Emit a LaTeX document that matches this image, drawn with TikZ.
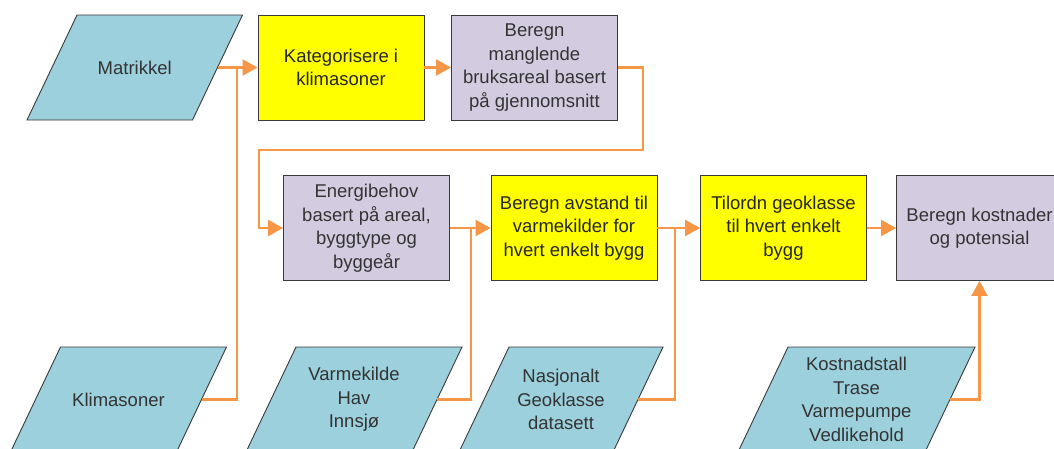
\documentclass[tikz,border=0pt]{standalone}
\usepackage{fontspec}
\setmainfont{Liberation Sans}
\usetikzlibrary{arrows.meta,calc}
\definecolor{inblue}{HTML}{9BD0DC}
\definecolor{procpurple}{HTML}{D3CCE0}
\definecolor{procyellow}{HTML}{FFFF00}
\definecolor{flow}{HTML}{F79646}
\definecolor{txt}{HTML}{333333}
\definecolor{edgegray}{HTML}{3A3A3A}
\tikzset{
  boxfont/.style={font=\fontsize{18.5}{23.5}\selectfont},
  proc/.style={draw=edgegray, line width=0.9pt, minimum width=166pt, minimum height=105pt,
    align=center, text=txt, boxfont, inner sep=2pt},
  purplebox/.style={proc, fill=procpurple},
  yellowbox/.style={proc, fill=procyellow, text=black!85},
  inshape/.style={fill=inblue, draw=edgegray, line width=0.9pt},
  intext/.style={minimum height=105pt, align=center, text=txt, boxfont, inner sep=0pt},
  flowline/.style={draw=flow, line width=2.2pt},
  flowarrow/.style={flowline, -{Triangle[length=15pt,width=16pt]}},
}
\newcommand\inbox[5]{%
  \filldraw[inshape] ({#2-#4/2+25},{#3-52.5}) -- ({#2+#4/2+25},{#3-52.5})
    -- ({#2+#4/2-25},{#3+52.5}) -- ({#2-#4/2-25},{#3+52.5}) -- cycle;
  \node[intext, minimum width=#4pt] (#1) at (#2,#3) {#5};}
\begin{document}
\begin{tikzpicture}[x=1pt,y=-1pt]
\clip (0,0) rectangle (1054,448);
\fill[white] (0,0) rectangle (1054,448);

% input parallelograms
\inbox{matr}{134.75}{67.5}{165.5}{Matrikkel}
\inbox{klim}{118.5}{399.5}{166}{Klimasoner}
\inbox{varme}{354}{399.5}{166}{Varmekilde\\Hav\\Innsjø}
\inbox{nasj}{561}{399.5}{154}{Nasjonalt\\Geoklasse\\datasett}
\inbox{kostt}{856.5}{399.5}{187}{Kostnadstall\\Trase\\Varmepumpe\\Vedlikehold}

% process boxes
\node[yellowbox] (kat) at (341,67.5) {Kategorisere i\\klimasoner};
\node[purplebox] (mang) at (534.5,67.5) {Beregn\\manglende\\bruksareal basert\\på gjennomsnitt};
\node[purplebox] (energi) at (366.5,228) {Energibehov\\basert på areal,\\byggtype og\\byggeår};
\node[yellowbox] (avst) at (574,228) {Beregn avstand til\\varmekilder for\\hvert enkelt bygg};
\node[yellowbox] (geo) at (783.5,228) {Tilordn geoklasse\\til hvert enkelt\\bygg};
\node[purplebox] (kost) at (979.5,228) {Beregn kostnader\\og potensial};

% junction points and bends
\coordinate (j1) at (237,67.5);
\coordinate (t1) at (643,150);
\coordinate (t2) at (259,150);
\coordinate (j2) at (471,228);
\coordinate (j3) at (675,228);

% connectors
\draw[flowarrow] (matr.east) -- (kat.west);
\draw[flowline] (klim.east) -| (j1);
\draw[flowarrow] (kat.east) -- (mang.west);
\draw[flowarrow] (mang.east) -| (t1) -- (t2) |- (energi.west);
\draw[flowarrow] (energi.east) -- (avst.west);
\draw[flowline] (varme.east) -| (j2);
\draw[flowarrow] (avst.east) -- (geo.west);
\draw[flowline] (nasj.east) -| (j3);
\draw[flowarrow] (geo.east) -- (kost.west);
\draw[flowarrow] (kostt.east) -| (kost.south);
\end{tikzpicture}
\end{document}
